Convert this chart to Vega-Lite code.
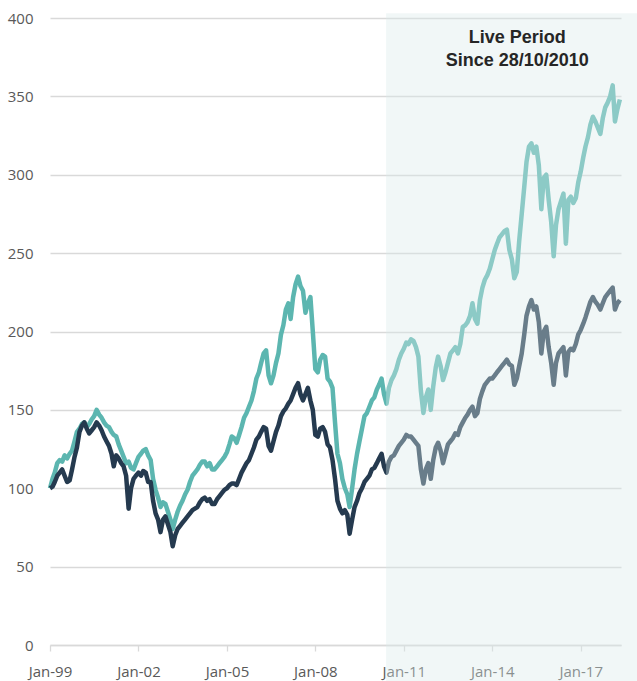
{
  "$schema": "https://vega.github.io/schema/vega-lite/v6.json",
  "width": 571,
  "height": 627,
  "autosize": {"type": "none"},
  "padding": {"left": 50, "top": 18, "right": 16, "bottom": 36},
  "background": "white",
  "config": {"view": {"stroke": null}},
  "datasets": {
    "series": [
      {"d":"1999-01-01","S":100,"B":100},{"d":"1999-02-01","S":106,"B":101},{"d":"1999-03-01","S":110,"B":104},{"d":"1999-04-01","S":116,"B":108},{"d":"1999-05-01","S":118,"B":110},{"d":"1999-06-01","S":117,"B":112},{"d":"1999-07-01","S":121,"B":108},{"d":"1999-08-01","S":119,"B":104},{"d":"1999-09-01","S":122,"B":105},{"d":"1999-10-01","S":124,"B":112},{"d":"1999-11-01","S":130,"B":120},{"d":"1999-12-01","S":136,"B":126},
      {"d":"2000-01-01","S":138,"B":136},{"d":"2000-02-01","S":141,"B":140},{"d":"2000-03-01","S":142,"B":142},{"d":"2000-04-01","S":139,"B":138},{"d":"2000-05-01","S":141,"B":135},{"d":"2000-06-01","S":144,"B":137},{"d":"2000-07-01","S":146,"B":139},{"d":"2000-08-01","S":150,"B":142},{"d":"2000-09-01","S":147,"B":140},{"d":"2000-10-01","S":145,"B":137},{"d":"2000-11-01","S":142,"B":133},{"d":"2000-12-01","S":140,"B":130},
      {"d":"2001-01-01","S":139,"B":127},{"d":"2001-02-01","S":136,"B":122},{"d":"2001-03-01","S":134,"B":114},{"d":"2001-04-01","S":133,"B":121},{"d":"2001-05-01","S":128,"B":119},{"d":"2001-06-01","S":124,"B":116},{"d":"2001-07-01","S":120,"B":114},{"d":"2001-08-01","S":116,"B":108},{"d":"2001-09-01","S":117,"B":87},{"d":"2001-10-01","S":113,"B":100},{"d":"2001-11-01","S":112,"B":106},{"d":"2001-12-01","S":116,"B":108},
      {"d":"2002-01-01","S":120,"B":110},{"d":"2002-02-01","S":122,"B":108},{"d":"2002-03-01","S":124,"B":111},{"d":"2002-04-01","S":125,"B":110},{"d":"2002-05-01","S":121,"B":104},{"d":"2002-06-01","S":118,"B":104},{"d":"2002-07-01","S":106,"B":92},{"d":"2002-08-01","S":99,"B":84},{"d":"2002-09-01","S":94,"B":80},{"d":"2002-10-01","S":88,"B":72},{"d":"2002-11-01","S":91,"B":80},{"d":"2002-12-01","S":90,"B":82},
      {"d":"2003-01-01","S":85,"B":77},{"d":"2003-02-01","S":80,"B":72},{"d":"2003-03-01","S":74,"B":63},{"d":"2003-04-01","S":80,"B":70},{"d":"2003-05-01","S":85,"B":74},{"d":"2003-06-01","S":89,"B":76},{"d":"2003-07-01","S":92,"B":78},{"d":"2003-08-01","S":96,"B":80},{"d":"2003-09-01","S":99,"B":82},{"d":"2003-10-01","S":104,"B":84},{"d":"2003-11-01","S":108,"B":86},{"d":"2003-12-01","S":110,"B":87},
      {"d":"2004-01-01","S":112,"B":88},{"d":"2004-02-01","S":115,"B":91},{"d":"2004-03-01","S":117,"B":93},{"d":"2004-04-01","S":117,"B":94},{"d":"2004-05-01","S":114,"B":92},{"d":"2004-06-01","S":116,"B":93},{"d":"2004-07-01","S":112,"B":90},{"d":"2004-08-01","S":112,"B":90},{"d":"2004-09-01","S":114,"B":93},{"d":"2004-10-01","S":116,"B":95},{"d":"2004-11-01","S":118,"B":97},{"d":"2004-12-01","S":120,"B":99},
      {"d":"2005-01-01","S":123,"B":100},{"d":"2005-02-01","S":128,"B":102},{"d":"2005-03-01","S":133,"B":103},{"d":"2005-04-01","S":132,"B":103},{"d":"2005-05-01","S":129,"B":102},{"d":"2005-06-01","S":134,"B":106},{"d":"2005-07-01","S":139,"B":110},{"d":"2005-08-01","S":145,"B":113},{"d":"2005-09-01","S":148,"B":116},{"d":"2005-10-01","S":152,"B":118},{"d":"2005-11-01","S":156,"B":122},{"d":"2005-12-01","S":162,"B":126},
      {"d":"2006-01-01","S":170,"B":131},{"d":"2006-02-01","S":174,"B":133},{"d":"2006-03-01","S":180,"B":136},{"d":"2006-04-01","S":186,"B":139},{"d":"2006-05-01","S":188,"B":138},{"d":"2006-06-01","S":172,"B":127},{"d":"2006-07-01","S":167,"B":124},{"d":"2006-08-01","S":172,"B":130},{"d":"2006-09-01","S":180,"B":136},{"d":"2006-10-01","S":186,"B":140},{"d":"2006-11-01","S":198,"B":146},{"d":"2006-12-01","S":204,"B":149},
      {"d":"2007-01-01","S":214,"B":151},{"d":"2007-02-01","S":218,"B":154},{"d":"2007-03-01","S":208,"B":156},{"d":"2007-04-01","S":222,"B":160},{"d":"2007-05-01","S":230,"B":164},{"d":"2007-06-01","S":235,"B":167},{"d":"2007-07-01","S":229,"B":160},{"d":"2007-08-01","S":226,"B":156},{"d":"2007-09-01","S":212,"B":160},{"d":"2007-10-01","S":218,"B":164},{"d":"2007-11-01","S":222,"B":156},{"d":"2007-12-01","S":200,"B":150},
      {"d":"2008-01-01","S":176,"B":134},{"d":"2008-02-01","S":174,"B":133},{"d":"2008-03-01","S":182,"B":138},{"d":"2008-04-01","S":185,"B":139},{"d":"2008-05-01","S":184,"B":136},{"d":"2008-06-01","S":170,"B":128},{"d":"2008-07-01","S":168,"B":126},{"d":"2008-08-01","S":164,"B":118},{"d":"2008-09-01","S":142,"B":106},{"d":"2008-10-01","S":122,"B":92},{"d":"2008-11-01","S":116,"B":87},{"d":"2008-12-01","S":106,"B":84},
      {"d":"2009-01-01","S":100,"B":86},{"d":"2009-02-01","S":96,"B":83},{"d":"2009-03-01","S":88,"B":71},{"d":"2009-04-01","S":100,"B":80},{"d":"2009-05-01","S":112,"B":88},{"d":"2009-06-01","S":122,"B":92},{"d":"2009-07-01","S":130,"B":97},{"d":"2009-08-01","S":138,"B":100},{"d":"2009-09-01","S":146,"B":104},{"d":"2009-10-01","S":148,"B":106},{"d":"2009-11-01","S":152,"B":108},{"d":"2009-12-01","S":156,"B":112},
      {"d":"2010-01-01","S":158,"B":113},{"d":"2010-02-01","S":163,"B":116},{"d":"2010-03-01","S":166,"B":119},{"d":"2010-04-01","S":170,"B":122},{"d":"2010-05-01","S":160,"B":114},{"d":"2010-06-01","S":154,"B":110},{"d":"2010-07-01","S":164,"B":117},{"d":"2010-08-01","S":169,"B":120},{"d":"2010-09-01","S":172,"B":121},{"d":"2010-10-01","S":176,"B":124},{"d":"2010-11-01","S":182,"B":127},{"d":"2010-12-01","S":186,"B":129},
      {"d":"2011-01-01","S":189,"B":131},{"d":"2011-02-01","S":193,"B":134},{"d":"2011-03-01","S":192,"B":133},{"d":"2011-04-01","S":195,"B":133},{"d":"2011-05-01","S":194,"B":131},{"d":"2011-06-01","S":190,"B":129},{"d":"2011-07-01","S":184,"B":127},{"d":"2011-08-01","S":162,"B":112},{"d":"2011-09-01","S":148,"B":103},{"d":"2011-10-01","S":158,"B":112},{"d":"2011-11-01","S":163,"B":116},{"d":"2011-12-01","S":150,"B":106},
      {"d":"2012-01-01","S":165,"B":118},{"d":"2012-02-01","S":177,"B":126},{"d":"2012-03-01","S":184,"B":129},{"d":"2012-04-01","S":178,"B":124},{"d":"2012-05-01","S":169,"B":116},{"d":"2012-06-01","S":174,"B":122},{"d":"2012-07-01","S":180,"B":128},{"d":"2012-08-01","S":186,"B":130},{"d":"2012-09-01","S":188,"B":132},{"d":"2012-10-01","S":190,"B":135},{"d":"2012-11-01","S":186,"B":134},{"d":"2012-12-01","S":192,"B":139},
      {"d":"2013-01-01","S":203,"B":142},{"d":"2013-02-01","S":204,"B":145},{"d":"2013-03-01","S":206,"B":147},{"d":"2013-04-01","S":210,"B":150},{"d":"2013-05-01","S":218,"B":152},{"d":"2013-06-01","S":208,"B":146},{"d":"2013-07-01","S":205,"B":148},{"d":"2013-08-01","S":220,"B":157},{"d":"2013-09-01","S":228,"B":162},{"d":"2013-10-01","S":233,"B":166},{"d":"2013-11-01","S":236,"B":168},{"d":"2013-12-01","S":240,"B":170},
      {"d":"2014-01-01","S":246,"B":170},{"d":"2014-02-01","S":252,"B":172},{"d":"2014-03-01","S":256,"B":174},{"d":"2014-04-01","S":260,"B":176},{"d":"2014-05-01","S":262,"B":178},{"d":"2014-06-01","S":264,"B":180},{"d":"2014-07-01","S":265,"B":182},{"d":"2014-08-01","S":252,"B":179},{"d":"2014-09-01","S":246,"B":178},{"d":"2014-10-01","S":234,"B":166},{"d":"2014-11-01","S":238,"B":170},{"d":"2014-12-01","S":258,"B":178},
      {"d":"2015-01-01","S":275,"B":186},{"d":"2015-02-01","S":292,"B":198},{"d":"2015-03-01","S":308,"B":210},{"d":"2015-04-01","S":318,"B":216},{"d":"2015-05-01","S":320,"B":220},{"d":"2015-06-01","S":314,"B":214},{"d":"2015-07-01","S":318,"B":216},{"d":"2015-08-01","S":306,"B":206},{"d":"2015-09-01","S":278,"B":186},{"d":"2015-10-01","S":298,"B":200},{"d":"2015-11-01","S":300,"B":203},{"d":"2015-12-01","S":284,"B":190},
      {"d":"2016-01-01","S":270,"B":180},{"d":"2016-02-01","S":248,"B":166},{"d":"2016-03-01","S":268,"B":180},{"d":"2016-04-01","S":278,"B":186},{"d":"2016-05-01","S":283,"B":188},{"d":"2016-06-01","S":288,"B":190},{"d":"2016-07-01","S":256,"B":172},{"d":"2016-08-01","S":284,"B":187},{"d":"2016-09-01","S":286,"B":189},{"d":"2016-10-01","S":282,"B":188},{"d":"2016-11-01","S":285,"B":192},{"d":"2016-12-01","S":295,"B":198},
      {"d":"2017-01-01","S":302,"B":201},{"d":"2017-02-01","S":311,"B":205},{"d":"2017-03-01","S":318,"B":209},{"d":"2017-04-01","S":324,"B":214},{"d":"2017-05-01","S":332,"B":219},{"d":"2017-06-01","S":337,"B":222},{"d":"2017-07-01","S":334,"B":219},{"d":"2017-08-01","S":330,"B":217},{"d":"2017-09-01","S":326,"B":214},{"d":"2017-10-01","S":336,"B":218},{"d":"2017-11-01","S":343,"B":222},{"d":"2017-12-01","S":346,"B":224},
      {"d":"2018-01-01","S":350,"B":226},{"d":"2018-02-01","S":357,"B":228},{"d":"2018-03-01","S":334,"B":214},{"d":"2018-04-01","S":342,"B":218},{"d":"2018-05-01","S":348,"B":220}
    ],
    "shade": [{"start": "2010-05-27", "end": "2019-01-01", "top": 403, "bottom": -25}],
    "label": [{"d": "2014-11-06", "v": 393, "t": ["Live Period", "Since 28/10/2010"]}]
  },
  "layer": [
    {
      "data": {"name": "series"},
      "transform": [{"fold": ["S", "B"], "as": ["series", "value"]}],
      "mark": {"type": "line", "strokeWidth": 4.5, "strokeJoin": "round"},
      "encoding": {
        "x": {
          "field": "d", "type": "temporal",
          "scale": {"domain": [{"year": 1999, "month": 1, "date": 1}, {"year": 2018, "month": 5, "date": 15}], "nice": false},
          "axis": {
            "title": null, "grid": false, "format": "%b-%y",
            "values": [{"year": 1999, "month": 1, "date": 1}, {"year": 2002, "month": 1, "date": 1}, {"year": 2005, "month": 1, "date": 1}, {"year": 2008, "month": 1, "date": 1}, {"year": 2011, "month": 1, "date": 1}, {"year": 2014, "month": 1, "date": 1}, {"year": 2017, "month": 1, "date": 1}],
            "domainColor": "#d9d9d9", "domainWidth": 1.3, "tickColor": "#d9d9d9", "tickSize": 6, "tickWidth": 1.3,
            "labelFont": "Open Sans", "labelFontSize": 15, "labelColor": "#595959", "labelPadding": 13,
            "labelBaseline": "top", "labelFlush": false
          }
        },
        "y": {
          "field": "value", "type": "quantitative",
          "scale": {"domain": [0, 400], "nice": false},
          "axis": {
            "title": null, "values": [0, 50, 100, 150, 200, 250, 300, 350, 400],
            "domain": false, "ticks": false, "tickSize": 0,
            "gridColor": "#d9d9d9", "gridWidth": 1.3,
            "labelFont": "Open Sans", "labelFontSize": 15, "labelColor": "#595959", "labelPadding": 17
          }
        },
        "color": {
          "field": "series", "type": "nominal",
          "scale": {"domain": ["S", "B"], "range": ["#5cb6b0", "#253a4f"]},
          "legend": null
        },
        "order": {"field": "d", "type": "temporal"}
      }
    },
    {
      "data": {"name": "shade"},
      "mark": {"type": "rect", "clip": false, "fill": "#d9ebeb", "opacity": 0.38},
      "encoding": {
        "x": {"field": "start", "type": "temporal"},
        "x2": {"field": "end"},
        "y": {"field": "top", "type": "quantitative"},
        "y2": {"field": "bottom"}
      }
    },
    {
      "data": {"name": "label"},
      "mark": {"type": "text", "font": "Liberation Sans", "fontWeight": "bold", "fontSize": 18, "color": "#262626", "align": "center", "baseline": "top", "lineHeight": 23},
      "encoding": {
        "x": {"field": "d", "type": "temporal"},
        "y": {"field": "v", "type": "quantitative"},
        "text": {"field": "t"}
      }
    }
  ]
}
